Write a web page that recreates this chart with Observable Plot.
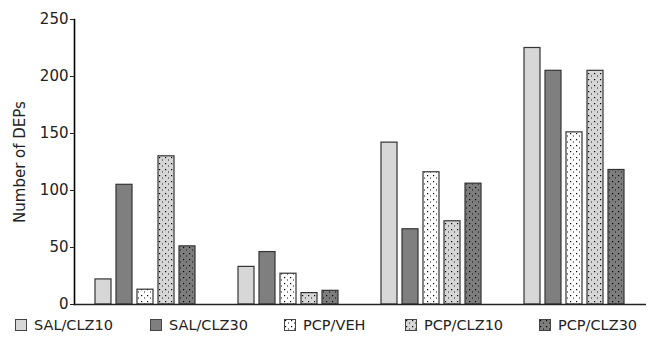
<!DOCTYPE html>
<html>
<head>
<meta charset="utf-8">
<script src="https://cdn.jsdelivr.net/npm/d3@7"></script>
<script src="https://cdn.jsdelivr.net/npm/@observablehq/plot@0.6"></script>
<style>
  html, body { margin: 0; padding: 0; background: #fff; }
  #wrap { position: relative; width: 663px; height: 338px; font-family: "DejaVu Sans", sans-serif; }
  #legend { position: absolute; left: 0; top: 312px; width: 663px; height: 26px; font-size: 14.5px; color: #222; }
  .item { position: absolute; top: 5px; display: flex; align-items: center; white-space: nowrap; }
  .item svg { margin-right: 7px; }
</style>
</head>
<body>
<svg width="0" height="0" style="position:absolute">
  <defs>
    <pattern id="p-veh" width="6" height="6" patternUnits="userSpaceOnUse">
      <rect width="6" height="6" fill="#ffffff"/>
      <rect x="1" y="1" width="1.2" height="1.2" fill="#000"/>
      <rect x="4" y="3" width="1" height="2" fill="#888"/>
    </pattern>
    <pattern id="p-clz10" width="6" height="6" patternUnits="userSpaceOnUse">
      <rect width="6" height="6" fill="#d6d6d6"/>
      <rect x="1" y="1" width="1.2" height="1.2" fill="#000"/>
      <rect x="4" y="3" width="1" height="2" fill="#777"/>
    </pattern>
    <pattern id="p-clz30" width="6" height="6" patternUnits="userSpaceOnUse">
      <rect width="6" height="6" fill="#7d7d7d"/>
      <rect x="1" y="1" width="1.2" height="1.2" fill="#000"/>
      <rect x="4" y="3" width="1" height="2" fill="#444"/>
    </pattern>
  </defs>
</svg>
<div id="wrap">
  <div id="chart"></div>
  <div id="legend"></div>
</div>
<script>
const groups = ["1", "2", "3", "4"];
const series = ["SAL/CLZ10", "SAL/CLZ30", "PCP/VEH", "PCP/CLZ10", "PCP/CLZ30"];
const salClz10 = [22, 33, 142, 225];
const salClz30 = [105, 46, 66, 205];
const pcpVeh   = [13, 27, 116, 151];
const pcpClz10 = [130, 10, 73, 205];
const pcpClz30 = [51, 12, 106, 118];
const yTicks = [0, 50, 100, 150, 200, 250];
const yLabel = "Number of DEPs";
const fills = ["#d7d7d7", "#7f7f7f", "url(#p-veh)", "url(#p-clz10)", "url(#p-clz30)"];

const valuesBySeries = [salClz10, salClz30, pcpVeh, pcpClz10, pcpClz30];
const data = [];
groups.forEach((g, gi) => {
  series.forEach((s, si) => {
    data.push({group: g, series: s, value: valuesBySeries[si][gi]});
  });
});

const chart = Plot.plot({
  width: 663,
  height: 312,
  marginLeft: 72,
  marginRight: 16,
  marginTop: 19,
  marginBottom: 8,
  style: {fontFamily: "DejaVu Sans, sans-serif", fontSize: "15px", color: "#222"},
  fx: {domain: groups, padding: 0, axis: null},
  x: {domain: series, paddingInner: 0.227, paddingOuter: 0.88, axis: null},
  y: {domain: [0, 250], ticks: yTicks, label: null},
  color: {domain: series, range: fills},
  marks: [
    Plot.frame({anchor: "left", stroke: "black", strokeWidth: 1.6, fx: groups[0]}),
    Plot.barY(data, {fx: "group", x: "series", y: "value", fill: "series", stroke: "#333", strokeWidth: 1.2}),
    Plot.axisY({ticks: yTicks, tickSize: 4, tickPadding: 2, fontSize: 15, label: null}),
    Plot.text([{group: groups[0], label: yLabel}], {fx: "group", text: "label", frameAnchor: "left", textAnchor: "middle", rotate: -90, dx: -54, fontSize: 15, fill: "#222"}),
    Plot.ruleY([0], {stroke: "#222", strokeWidth: 1.5})
  ]
});
document.getElementById("chart").appendChild(chart);

const legendX = [15, 150, 284, 405, 539];
const legend = document.getElementById("legend");
series.forEach((s, i) => {
  const div = document.createElement("div");
  div.className = "item";
  div.style.left = legendX[i] + "px";
  div.innerHTML = `<svg width="12" height="12"><rect x="0.5" y="0.5" width="11" height="11" fill="${fills[i]}" stroke="#444" stroke-width="1"/></svg><span>${s}</span>`;
  legend.appendChild(div);
});
</script>
</body>
</html>
